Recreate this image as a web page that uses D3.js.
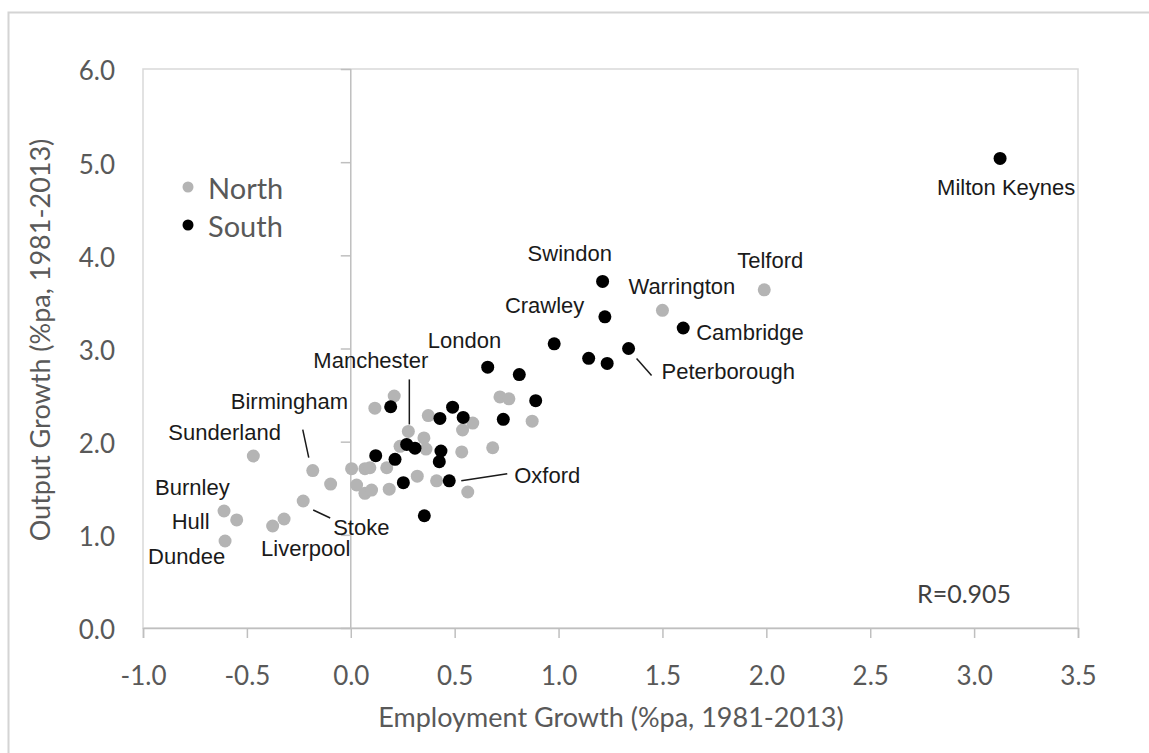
<!DOCTYPE html>
<html>
<head>
<meta charset="utf-8" />
<title>Output vs Employment Growth, 1981-2013</title>
<script src="https://d3js.org/d3.v7.min.js"></script>
<style>
  body { margin: 0; background: #fff; }
  svg { display: block; }
  .axis text { font-family: Lato, sans-serif; font-size: 26px; fill: #595959; }
  .axis path, .axis line { stroke: #bfbfbf; stroke-width: 1.5; }
  .title { font-family: Lato, sans-serif; font-size: 27px; fill: #595959; }
  .city { font-family: "Liberation Sans", Arial, sans-serif; font-size: 22px; fill: #1a1a1a; }
  .leader { stroke: #1a1a1a; stroke-width: 1.5; }
</style>
</head>
<body>
<svg id="chart" width="1149" height="753"></svg>
<script>
// North towns/cities (grey): employment growth and output growth, %pa 1981-2013
const northNames = ["Telford", "Warrington", "", "", "", "", "", "", "", "", "",
  "", "Manchester", "", "", "", "", "", "", "", "", "", "", "", "", "", "",
  "Sunderland", "Birmingham", "", "Burnley", "Hull", "Dundee", "Stoke", "Liverpool", ""];
const northEmp = [1.99, 1.50, 0.718, 0.761, 0.873, 0.587, 0.538, 0.534, 0.683, 0.209, 0.116,
  0.373, 0.277, 0.352, 0.237, 0.362, 0.004, 0.068, 0.092, 0.173, 0.028, 0.068, 0.10, 0.185,
  0.320, 0.413, 0.563, -0.469, -0.183, -0.097, -0.610, -0.549, -0.605, -0.229, -0.321, -0.376];
const northOut = [3.63, 3.41, 2.48, 2.46, 2.22, 2.20, 2.125, 1.89, 1.935, 2.49, 2.36,
  2.28, 2.11, 2.04, 1.95, 1.92, 1.71, 1.71, 1.72, 1.72, 1.535, 1.445, 1.48, 1.49,
  1.63, 1.58, 1.46, 1.846, 1.69, 1.545, 1.256, 1.16, 0.934, 1.363, 1.17, 1.095];

// South towns/cities (black)
const southNames = ["Milton Keynes", "Swindon", "Crawley", "Cambridge", "Peterborough", "", "", "",
  "London", "", "", "", "", "", "", "", "", "", "", "", "", "", "", "Oxford", ""];
const southEmp = [3.125, 1.212, 1.223, 1.60, 1.337, 0.979, 1.145, 1.234, 0.659, 0.811, 0.890,
  0.541, 0.734, 0.490, 0.429, 0.434, 0.426, 0.192, 0.269, 0.309, 0.120, 0.213, 0.253, 0.474, 0.354];
const southOut = [5.04, 3.72, 3.34, 3.22, 3.00, 3.05, 2.895, 2.84, 2.80, 2.72, 2.44,
  2.26, 2.24, 2.37, 2.25, 1.90, 1.785, 2.375, 1.97, 1.93, 1.85, 1.81, 1.56, 1.58, 1.205];

const xTicks = [-1.0, -0.5, 0.0, 0.5, 1.0, 1.5, 2.0, 2.5, 3.0, 3.5];
const yTicks = [0, 1, 2, 3, 4, 5, 6];
const correlation = "R=0.905";

// label placement relative to the point (pixels): text start dx, baseline dy
const labelOffsets = {
  "Milton Keynes": [-63, 37], "Swindon": [-75, -20], "Telford": [-27, -22],
  "Warrington": [-34, -16], "Crawley": [-100, -4], "Cambridge": [13, 12],
  "London": [-60, -19], "Peterborough": [33, 30], "Manchester": [-95, -63],
  "Birmingham": [-82, -62], "Sunderland": [-85, -16], "Burnley": [-69, -16],
  "Hull": [-65, 9], "Dundee": [-77, 23], "Liverpool": [-23, 37],
  "Stoke": [30, 34], "Oxford": [65, 2]
};
// leader lines relative to the point: x1, y1, x2, y2
const leaders = {
  "Peterborough": [8, 10, 23, 27], "Manchester": [1, -52, 1, -7],
  "Birmingham": [-10, -41, -4, -13], "Stoke": [10, 9, 27, 17], "Oxford": [12, 0, 58, -7]
};

const width = 1149, height = 753;
const margin = { top: 69, right: 71, bottom: 125, left: 143 };

const svg = d3.select('#chart');

// outer frame of the figure
svg.append('rect')
  .attr('x', 8.5).attr('y', 12.5)
  .attr('width', 1200).attr('height', 800)
  .attr('fill', 'none').attr('stroke', '#d4d4d4').attr('stroke-width', 2);

const x = d3.scaleLinear().domain([-1, 3.5]).range([margin.left, width - margin.right]);
const y = d3.scaleLinear().domain([0, 6]).range([height - margin.bottom, margin.top]);

// plot area border
svg.append('rect')
  .attr('x', x(-1)).attr('y', y(6))
  .attr('width', x(3.5) - x(-1)).attr('height', y(0) - y(6))
  .attr('fill', 'none').attr('stroke', '#d9d9d9').attr('stroke-width', 1.5);

// x axis at the bottom
svg.append('g')
  .attr('class', 'axis')
  .attr('transform', `translate(0,${y(0)})`)
  .call(d3.axisBottom(x).tickValues(xTicks).tickSize(10).tickPadding(29)
    .tickFormat(d => d.toFixed(1)));

// vertical axis line through x = 0, with tick marks
svg.append('g')
  .attr('class', 'axis')
  .attr('transform', `translate(${x(0)},0)`)
  .call(d3.axisLeft(y).tickValues(yTicks).tickSize(10).tickFormat(''))
  .call(g => g.select('.domain').attr('d', `M0,${y(6)}V${y(0)}`));

// y tick labels sit at the left of the plot area
svg.append('g')
  .attr('class', 'axis')
  .attr('transform', `translate(${x(-1)},0)`)
  .call(d3.axisLeft(y).tickValues(yTicks).tickSize(0).tickPadding(28)
    .tickFormat(d => d.toFixed(1)))
  .call(g => g.select('.domain').remove())
  .call(g => g.selectAll('text').attr('dy', '0.42em'));

// axis titles
svg.append('text')
  .attr('class', 'title')
  .attr('x', 611).attr('y', 727)
  .attr('text-anchor', 'middle')
  .text('Employment Growth (%pa, 1981-2013)');

svg.append('text')
  .attr('class', 'title')
  .attr('transform', 'translate(50,340) rotate(-90)')
  .attr('text-anchor', 'middle')
  .text('Output Growth  (%pa, 1981-2013)');

// points
const north = northEmp.map((d, i) => ({ x: d, y: northOut[i], name: northNames[i] }));
const south = southEmp.map((d, i) => ({ x: d, y: southOut[i], name: southNames[i] }));

svg.append('g').selectAll('circle')
  .data(north).enter().append('circle')
    .attr('cx', d => x(d.x)).attr('cy', d => y(d.y))
    .attr('r', 6.5).attr('fill', '#b4b4b4');

svg.append('g').selectAll('circle')
  .data(south).enter().append('circle')
    .attr('cx', d => x(d.x)).attr('cy', d => y(d.y))
    .attr('r', 6.5).attr('fill', '#000');

// city labels and leader lines
const named = north.concat(south).filter(d => d.name);

svg.append('g').selectAll('line')
  .data(named.filter(d => leaders[d.name])).enter().append('line')
    .attr('class', 'leader')
    .attr('x1', d => x(d.x) + leaders[d.name][0]).attr('y1', d => y(d.y) + leaders[d.name][1])
    .attr('x2', d => x(d.x) + leaders[d.name][2]).attr('y2', d => y(d.y) + leaders[d.name][3]);

svg.append('g').selectAll('text')
  .data(named).enter().append('text')
    .attr('class', 'city')
    .attr('x', d => x(d.x) + labelOffsets[d.name][0])
    .attr('y', d => y(d.y) + labelOffsets[d.name][1])
    .text(d => d.name);

// legend
const legend = svg.append('g').attr('transform', 'translate(188,0)');
[['North', '#b4b4b4', 187], ['South', '#000', 225]].forEach(([label, color, cy]) => {
  legend.append('circle').attr('cx', 0).attr('cy', cy).attr('r', 5.5).attr('fill', color);
  legend.append('text')
    .attr('x', 20).attr('y', cy + 12)
    .style('font-family', 'Lato, sans-serif').style('font-size', '29px').style('fill', '#595959')
    .text(label);
});

// correlation note
svg.append('text')
  .attr('x', 917).attr('y', 603)
  .style('font-family', 'Lato, sans-serif').style('font-size', '25px').style('fill', '#404040')
  .text(correlation);
</script>
</body>
</html>
